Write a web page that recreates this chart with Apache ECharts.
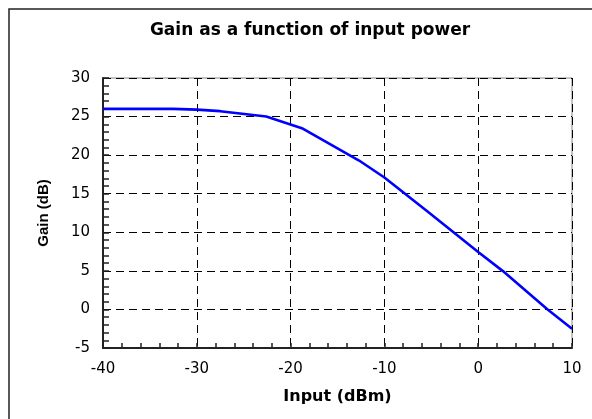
<!DOCTYPE html>
<html>
<head>
<meta charset="utf-8">
<script src="https://cdn.jsdelivr.net/npm/echarts@6/dist/echarts.min.js"></script>
<style>
html,body{margin:0;padding:0;background:#fff;}
#chart{width:592px;height:419px;}
</style>
</head>
<body>
<div id="chart"></div>
<script>
var titleText = 'Gain as a function of input power';
var xName = 'Input (dBm)';
var yName = 'Gain (dB)';
var inputDbm = [-40, -32.5, -30, -27.5, -22.6, -18.8, -12.7, -10, -5.5, 0, 2.6, 7.4, 10];
var gainDb   = [26.0, 26.0, 25.9, 25.7, 25.0, 23.5, 19.3, 17.1, 12.8, 7.45, 5.0, 0.0, -2.5];
var xMin = -40, xMax = 10, xStep = 10;
var yMin = -5, yMax = 30, yStep = 5;

var chart = echarts.init(document.getElementById('chart'), null, {renderer: 'canvas'});
var pts = inputDbm.map(function (x, i) { return [x, gainDb[i]]; });

chart.setOption({
  animation: false,
  backgroundColor: '#fff',
  graphic: [{
    type: 'rect',
    shape: {x: 9, y: 9, width: 620, height: 440},
    style: {fill: 'none', stroke: '#222', lineWidth: 1.5},
    z: 100
  }],
  title: {
    text: titleText,
    left: 310,
    top: 22,
    padding: 0,
    textAlign: 'center',
    textStyle: {fontFamily: 'DejaVu Sans', fontWeight: 'bold', fontSize: 17, color: '#000'}
  },
  grid: {
    left: 103, right: 20, top: 78, bottom: 71,
    show: true, borderColor: '#888', borderWidth: 1, backgroundColor: 'transparent'
  },
  xAxis: {
    type: 'value',
    min: xMin, max: xMax, interval: xStep,
    name: xName,
    nameLocation: 'middle',
    nameGap: 41,
    nameTextStyle: {fontFamily: 'DejaVu Sans', fontWeight: 'bold', fontSize: 16, color: '#000'},
    axisLine: {show: true, onZero: false, lineStyle: {color: '#222', width: 2}},
    axisTick: {show: true, inside: true, length: 5, lineStyle: {color: '#222', width: 1.5}},
    minorTick: {show: true, splitNumber: 5, length: 5, lineStyle: {color: '#222', width: 1.5}},
    axisLabel: {margin: 14, fontFamily: 'DejaVu Sans', fontSize: 15, color: '#000'},
    splitLine: {show: true, lineStyle: {color: '#000', width: 1, type: [8, 5]}}
  },
  yAxis: {
    type: 'value',
    min: yMin, max: yMax, interval: yStep,
    name: yName,
    nameLocation: 'middle',
    nameGap: 52,
    nameTextStyle: {fontFamily: 'Liberation Sans', fontWeight: 'bold', fontSize: 15, color: '#000'},
    axisLine: {show: true, onZero: false, lineStyle: {color: '#222', width: 2}},
    axisTick: {show: true, inside: true, length: 6, lineStyle: {color: '#222', width: 1.5}},
    minorTick: {show: true, splitNumber: 5, length: 6, lineStyle: {color: '#222', width: 1.5}},
    axisLabel: {margin: 13, fontFamily: 'DejaVu Sans', fontSize: 15, color: '#000'},
    splitLine: {show: true, lineStyle: {color: '#000', width: 1, type: [8, 5]}}
  },
  series: [{
    type: 'line',
    data: pts,
    showSymbol: false,
    symbol: 'none',
    smooth: false,
    lineStyle: {color: '#0000ff', width: 2.6},
    z: 5
  }]
});
</script>
</body>
</html>
